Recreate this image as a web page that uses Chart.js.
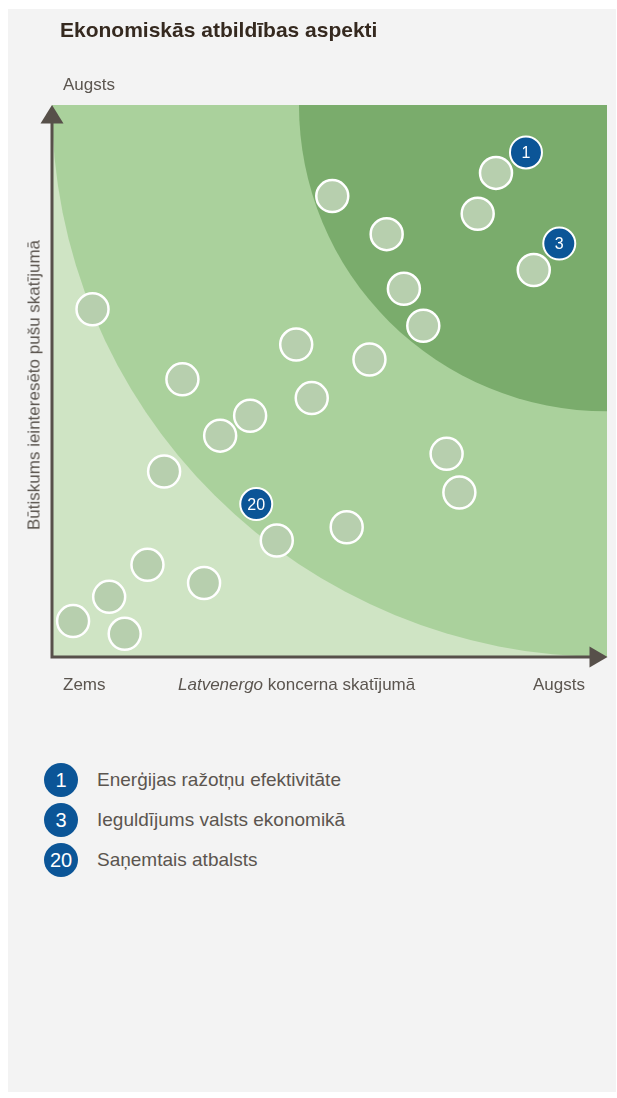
<!DOCTYPE html>
<html lang="lv">
<head>
<meta charset="utf-8">
<title>Ekonomiskās atbildības aspekti</title>
<script src="https://cdn.jsdelivr.net/npm/chart.js@4.4.1/dist/chart.umd.min.js"></script>
<style>
  html, body { margin: 0; padding: 0; background: #fff; }
  body {
    width: 617px; height: 1098px; position: relative; overflow: hidden;
    font-family: 'Liberation Sans', Arial, Helvetica, sans-serif;
    color: #5b554f;
  }
  .panel { position: absolute; left: 8px; top: 9px; width: 608px; height: 1083px; background: #f3f3f3; }
  #matrix { position: absolute; left: 0; top: 0; }
  .txt { position: absolute; white-space: nowrap; line-height: 1; }
  .title { left: 60px; top: 19px; font-size: 21px; font-weight: bold; color: #35291f; }
  .lbl { font-size: 17px; }
  .ytitle { left: 34px; top: 385px; font-size: 17px; transform: translate(-50%, -50%) rotate(-90deg); }
  .legend { position: absolute; left: 44px; top: 760px; }
  .row { display: flex; align-items: center; height: 40px; }
  .dot {
    width: 34px; height: 34px; border-radius: 50%; background: #0b5597; color: #fff;
    font-size: 20px; display: flex; align-items: center; justify-content: center; margin-right: 19px;
  }
  .row span { font-size: 19px; }
</style>
</head>
<body>
<div class="panel"></div>
<canvas id="matrix" width="617" height="700"></canvas>

<div class="txt title">Ekonomiskās atbildības aspekti</div>
<div class="txt lbl" style="left:63px; top:76px;">Augsts</div>
<div class="txt ytitle">Būtiskums ieinteresēto pušu skatījumā</div>
<div class="txt lbl" style="left:63px; top:676px;">Zems</div>
<div class="txt lbl" style="left:178px; top:676px;"><i>Latvenergo</i> koncerna skatījumā</div>
<div class="txt lbl" style="left:533px; top:676px;">Augsts</div>

<div class="legend" id="legend"></div>

<script>
// aspekti bez numura (x – koncerna skatījums, y – ieinteresēto pušu skatījums)
const aspectX = [7.3, 23.5, 20.2, 30.3, 35.7, 44.0, 46.8, 50.5, 57.2, 60.3, 63.4, 66.9,
                 71.1, 73.4, 53.1, 40.5, 27.4, 17.2, 10.3, 3.8, 13.1, 80.0, 76.7, 86.8];
const aspectY = [63.0, 50.3, 33.6, 40.1, 43.7, 56.6, 46.9, 83.5, 53.9, 76.6, 66.7, 60.0,
                 36.8, 29.8, 23.5, 21.1, 13.4, 16.7, 10.9, 6.5, 4.2, 87.7, 80.3, 70.1];

// numurētie aspekti
const keyIds = ['1', '3', '20'];
const keyNames = ['Enerģijas ražotņu efektivitāte', 'Ieguldījums valsts ekonomikā', 'Saņemtais atbalsts'];
const keyX = [85.4, 91.4, 36.8];
const keyY = [91.4, 74.9, 27.7];

// būtiskuma zonas – rādiuss no augšējā labā stūra
const zoneRadii = [100, 55.5];

const axisMin = 0;
const axisMax = 100;

const zoneFill = ['#cfe4c4', '#aad19c', '#7aac6c'];
const axisColor = '#57504a';
const blue = '#0b5597';

const zones = {
  id: 'zones',
  beforeDatasetsDraw(chart) {
    const { ctx, chartArea: a, scales: { x, y } } = chart;
    ctx.save();
    ctx.beginPath();
    ctx.rect(a.left, a.top, a.right - a.left, a.bottom - a.top);
    ctx.clip();
    ctx.fillStyle = zoneFill[0];
    ctx.fillRect(a.left, a.top, a.right - a.left, a.bottom - a.top);
    const cx = x.getPixelForValue(axisMax);
    const cy = y.getPixelForValue(axisMax);
    zoneRadii.forEach((r, i) => {
      const rx = cx - x.getPixelForValue(axisMax - r);
      const ry = y.getPixelForValue(axisMax - r) - cy;
      ctx.beginPath();
      ctx.ellipse(cx, cy, rx, ry, 0, 0, Math.PI * 2);
      ctx.fillStyle = zoneFill[i + 1];
      ctx.fill();
    });
    ctx.restore();

    // asis ar bultām
    ctx.save();
    ctx.strokeStyle = axisColor;
    ctx.fillStyle = axisColor;
    ctx.lineWidth = 3;
    ctx.beginPath();
    ctx.moveTo(a.left, a.top + 16);
    ctx.lineTo(a.left, a.bottom);
    ctx.lineTo(a.right - 16, a.bottom);
    ctx.stroke();
    ctx.beginPath();
    ctx.moveTo(a.left, a.top);
    ctx.lineTo(a.left - 11.5, a.top + 18.5);
    ctx.lineTo(a.left + 11.5, a.top + 18.5);
    ctx.closePath();
    ctx.fill();
    ctx.beginPath();
    ctx.moveTo(a.right + 0.5, a.bottom);
    ctx.lineTo(a.right - 17.5, a.bottom - 10.5);
    ctx.lineTo(a.right - 17.5, a.bottom + 10.5);
    ctx.closePath();
    ctx.fill();
    ctx.restore();
  }
};

const keyLabels = {
  id: 'keyLabels',
  afterDatasetsDraw(chart) {
    const { ctx } = chart;
    const meta = chart.getDatasetMeta(0);
    ctx.save();
    ctx.fillStyle = '#fff';
    ctx.font = '16px "Liberation Sans", Arial, sans-serif';
    ctx.textAlign = 'center';
    ctx.textBaseline = 'middle';
    meta.data.forEach((pt, i) => {
      ctx.fillText(keyIds[i], pt.x, pt.y + 1);
    });
    ctx.restore();
  }
};

new Chart(document.getElementById('matrix'), {
  type: 'scatter',
  data: {
    datasets: [
      {
        label: 'Numurētie aspekti',
        data: keyX.map((v, i) => ({ x: v, y: keyY[i] })),
        backgroundColor: blue,
        borderColor: '#fff',
        borderWidth: 2,
        pointRadius: 16,
        pointHoverRadius: 16,
        order: 0,
        clip: false
      },
      {
        label: 'Aspekti',
        data: aspectX.map((v, i) => ({ x: v, y: aspectY[i] })),
        backgroundColor: '#b7cfae',
        borderColor: '#fff',
        borderWidth: 2.5,
        pointRadius: 16,
        pointHoverRadius: 16,
        order: 1,
        clip: false
      }
    ]
  },
  options: {
    responsive: false,
    animation: false,
    layout: { autoPadding: false, padding: { left: 52, top: 105, right: 10, bottom: 43 } },
    scales: {
      x: { type: 'linear', min: axisMin, max: axisMax, display: false },
      y: { type: 'linear', min: axisMin, max: axisMax, display: false }
    },
    plugins: {
      legend: { display: false },
      tooltip: { enabled: false }
    }
  },
  plugins: [zones, keyLabels]
});

// leģenda
const legend = document.getElementById('legend');
keyIds.forEach((id, i) => {
  const row = document.createElement('div');
  row.className = 'row';
  row.innerHTML = `<div class="dot">${id}</div><span>${keyNames[i]}</span>`;
  legend.appendChild(row);
});
</script>
</body>
</html>
